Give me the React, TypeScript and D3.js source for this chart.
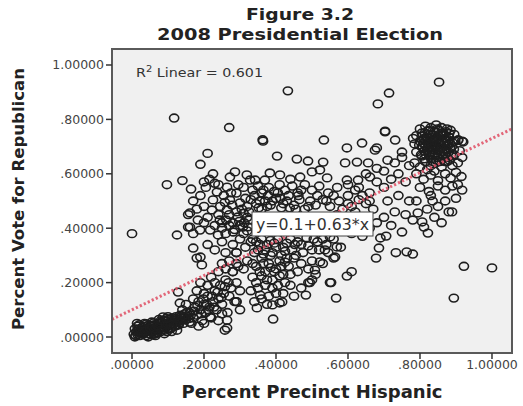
import React from 'react';
import * as d3 from 'd3';

// tick labels as shown by SPSS
const xTicks = [0, 0.2, 0.4, 0.6, 0.8, 1.0];
const yTicks = [0, 0.2, 0.4, 0.6, 0.8, 1.0];
const tickLabels = ['.00000', '.20000', '.40000', '.60000', '.80000', '1.00000'];

// linear fit shown in the chart
const fitIntercept = 0.1;
const fitSlope = 0.63;
const rSquared = '0.601';

// precincts: [share hispanic, share republican]
const lowBand: [number, number][] = [
  [0.005, 0.01], [0.01, 0.005], [0.012, 0.02], [0.015, 0.01], [0.018, 0.03], [0.02, 0.015], [0.022, 0.005],
  [0.025, 0.02], [0.028, 0.035], [0.03, 0.01], [0.032, 0.025], [0.035, 0.015], [0.038, 0.03], [0.04, 0.005],
  [0.042, 0.02], [0.045, 0.035], [0.048, 0.012], [0.05, 0.025], [0.052, 0.04], [0.055, 0.018], [0.058, 0.03],
  [0.06, 0.01], [0.062, 0.045], [0.065, 0.022], [0.068, 0.035], [0.07, 0.015], [0.072, 0.05], [0.075, 0.028],
  [0.078, 0.04], [0.08, 0.02], [0.082, 0.055], [0.085, 0.033], [0.088, 0.045], [0.09, 0.025], [0.092, 0.06],
  [0.095, 0.038], [0.098, 0.05], [0.1, 0.03], [0.102, 0.065], [0.105, 0.045], [0.108, 0.055], [0.11, 0.035],
  [0.112, 0.07], [0.115, 0.05], [0.118, 0.06], [0.12, 0.04], [0.122, 0.075], [0.125, 0.055], [0.128, 0.065],
  [0.13, 0.045], [0.133, 0.08], [0.136, 0.06], [0.14, 0.07], [0.143, 0.05], [0.146, 0.085], [0.15, 0.065],
  [0.155, 0.075], [0.16, 0.055], [0.02, 0.045], [0.008, 0.03], [0.035, 0.05], [0.055, 0.055], [0.075, 0.065],
  [0.1, 0.075], [0.015, 0.04], [0.045, 0.0], [0.065, 0.005], [0.09, 0.012], [0.11, 0.02], [0.125, 0.025],
  [0.086, 0.074], [0.078, 0.037], [0.008, 0.0], [0.014, 0.05], [0.017, 0.022], [0.027, 0.012],
  [0.033, 0.04], [0.043, 0.028], [0.047, 0.045], [0.053, 0.008], [0.057, 0.042], [0.063, 0.03],
  [0.067, 0.012], [0.073, 0.022], [0.077, 0.052], [0.083, 0.027], [0.087, 0.06], [0.093, 0.045],
  [0.097, 0.02], [0.103, 0.052], [0.107, 0.03], [0.113, 0.062], [0.117, 0.04], [0.123, 0.068],
  [0.127, 0.045], [0.132, 0.058], [0.138, 0.078], [0.142, 0.062], [0.148, 0.072], [0.152, 0.09],
  [0.158, 0.068], [0.163, 0.08], [0.04, 0.048], [0.06, 0.052], [0.08, 0.06], [0.095, 0.068],
  [0.024, 0.028], [0.037, 0.022], [0.05, 0.033], [0.07, 0.042],
];

const rising: [number, number][] = [
  [0.16, 0.09], [0.17, 0.07], [0.175, 0.11], [0.18, 0.08], [0.185, 0.13], [0.19, 0.1], [0.195, 0.06],
  [0.2, 0.12], [0.205, 0.09], [0.21, 0.15], [0.215, 0.11], [0.22, 0.07], [0.225, 0.13], [0.23, 0.17],
  [0.235, 0.1], [0.24, 0.14], [0.245, 0.19], [0.25, 0.12], [0.255, 0.16], [0.26, 0.21], [0.265, 0.09],
  [0.264, 0.033], [0.264, 0.062], [0.27, 0.15], [0.275, 0.18], [0.28, 0.24], [0.285, 0.13], [0.29, 0.2],
  [0.29, 0.13], [0.3, 0.17], [0.295, 0.26], [0.17, 0.14], [0.18, 0.17], [0.19, 0.2], [0.2, 0.16],
  [0.21, 0.19], [0.22, 0.22], [0.23, 0.2], [0.24, 0.24], [0.25, 0.27], [0.26, 0.25], [0.27, 0.28],
  [0.128, 0.165], [0.133, 0.125], [0.15, 0.12], [0.14, 0.1], [0.165, 0.05], [0.185, 0.04], [0.2, 0.05],
  [0.217, 0.074], [0.24, 0.06], [0.25, 0.085], [0.18, 0.29], [0.194, 0.265], [0.17, 0.327], [0.19, 0.294],
  [0.172, 0.095], [0.182, 0.115], [0.192, 0.085], [0.198, 0.14], [0.208, 0.12], [0.212, 0.1],
  [0.222, 0.15], [0.228, 0.11], [0.238, 0.165], [0.248, 0.145], [0.258, 0.185], [0.268, 0.2],
];

const midCloud: [number, number][] = [
  [0.2, 0.57], [0.225, 0.6], [0.23, 0.565], [0.272, 0.588], [0.286, 0.607], [0.319, 0.596], [0.328, 0.577],
  [0.342, 0.577], [0.369, 0.577], [0.383, 0.603], [0.411, 0.596], [0.44, 0.58], [0.467, 0.588], [0.5, 0.607],
  [0.522, 0.614], [0.542, 0.585], [0.164, 0.544], [0.236, 0.533], [0.264, 0.551], [0.29, 0.529], [0.31, 0.55],
  [0.335, 0.54], [0.35, 0.555], [0.36, 0.53], [0.38, 0.55], [0.395, 0.535], [0.41, 0.56], [0.425, 0.54],
  [0.445, 0.555], [0.46, 0.53], [0.48, 0.56], [0.5, 0.54], [0.52, 0.555], [0.545, 0.53], [0.57, 0.55],
  [0.6, 0.56], [0.62, 0.54], [0.225, 0.504], [0.222, 0.467], [0.264, 0.467], [0.272, 0.504], [0.3, 0.493],
  [0.32, 0.48], [0.33, 0.505], [0.345, 0.49], [0.36, 0.47], [0.37, 0.5], [0.385, 0.485], [0.4, 0.51],
  [0.415, 0.475], [0.43, 0.5], [0.45, 0.485], [0.465, 0.505], [0.48, 0.47], [0.495, 0.5], [0.51, 0.485],
  [0.53, 0.505], [0.55, 0.48], [0.575, 0.5], [0.6, 0.49], [0.63, 0.505], [0.65, 0.49], [0.161, 0.456],
  [0.156, 0.45], [0.183, 0.43], [0.244, 0.43], [0.294, 0.441], [0.31, 0.455], [0.325, 0.43], [0.161, 0.404],
  [0.189, 0.393], [0.217, 0.393], [0.239, 0.375], [0.281, 0.386], [0.308, 0.404], [0.27, 0.41], [0.25, 0.42],
  [0.2, 0.42], [0.32, 0.39], [0.21, 0.34], [0.23, 0.32], [0.25, 0.35], [0.26, 0.31], [0.28, 0.34],
  [0.29, 0.31], [0.3, 0.36], [0.315, 0.33], [0.33, 0.35], [0.34, 0.31], [0.355, 0.34], [0.37, 0.32],
  [0.385, 0.355], [0.4, 0.33], [0.415, 0.3], [0.43, 0.345], [0.445, 0.32], [0.46, 0.35], [0.475, 0.31],
  [0.49, 0.335], [0.505, 0.36], [0.52, 0.32], [0.54, 0.34], [0.56, 0.36], [0.58, 0.33], [0.28, 0.24],
  [0.29, 0.27], [0.31, 0.25], [0.32, 0.28], [0.335, 0.22], [0.345, 0.26], [0.36, 0.29], [0.37, 0.24],
  [0.38, 0.27], [0.39, 0.21], [0.4, 0.25], [0.41, 0.28], [0.42, 0.23], [0.435, 0.26], [0.45, 0.29],
  [0.46, 0.24], [0.47, 0.27], [0.49, 0.25], [0.5, 0.28], [0.51, 0.23], [0.53, 0.27], [0.55, 0.2],
  [0.56, 0.29], [0.33, 0.17], [0.34, 0.13], [0.356, 0.154], [0.37, 0.19], [0.38, 0.15], [0.39, 0.18],
  [0.41, 0.125], [0.42, 0.16], [0.44, 0.19], [0.45, 0.15], [0.47, 0.18], [0.483, 0.154], [0.49, 0.2],
  [0.5, 0.21], [0.29, 0.13], [0.3, 0.1], [0.392, 0.066], [0.25, 0.4], [0.26, 0.38], [0.27, 0.45],
  [0.28, 0.42], [0.29, 0.46], [0.3, 0.41], [0.31, 0.38], [0.32, 0.44], [0.255, 0.52], [0.275, 0.53],
  [0.295, 0.56], [0.315, 0.51], [0.34, 0.52], [0.355, 0.5], [0.365, 0.54], [0.375, 0.48], [0.39, 0.5],
  [0.405, 0.53], [0.42, 0.49], [0.435, 0.52], [0.455, 0.47], [0.47, 0.54], [0.49, 0.48], [0.515, 0.52],
  [0.54, 0.5], [0.56, 0.52], [0.585, 0.47], [0.61, 0.48], [0.64, 0.52], [0.66, 0.5], [0.335, 0.36],
  [0.35, 0.32], [0.36, 0.36], [0.375, 0.34], [0.39, 0.31], [0.405, 0.36], [0.42, 0.33], [0.44, 0.36],
  [0.455, 0.3], [0.47, 0.34], [0.485, 0.365], [0.5, 0.32], [0.515, 0.35], [0.53, 0.36], [0.545, 0.31],
  [0.335, 0.27], [0.345, 0.2], [0.355, 0.24], [0.365, 0.27], [0.375, 0.21], [0.385, 0.3], [0.395, 0.24],
  [0.405, 0.19], [0.415, 0.26], [0.425, 0.2], [0.43, 0.29], [0.44, 0.23], [0.35, 0.18], [0.36, 0.14],
  [0.375, 0.12], [0.4, 0.16], [0.347, 0.107], [0.39, 0.118], [0.417, 0.129], [0.17, 0.5], [0.18, 0.47],
  [0.19, 0.52], [0.2, 0.48], [0.205, 0.55], [0.21, 0.44], [0.215, 0.58], [0.24, 0.56], [0.245, 0.48],
  [0.17, 0.38], [0.23, 0.41], [0.24, 0.45], [0.494, 0.2], [0.508, 0.246], [0.522, 0.276], [0.536, 0.32],
  [0.564, 0.294], [0.569, 0.331], [0.55, 0.368], [0.262, 0.43], [0.285, 0.395], [0.298, 0.425],
  [0.312, 0.42], [0.322, 0.405], [0.258, 0.495], [0.278, 0.485], [0.305, 0.47], [0.325, 0.46],
  [0.352, 0.475], [0.378, 0.52], [0.412, 0.51], [0.438, 0.475], [0.462, 0.52], [0.345, 0.35],
  [0.365, 0.305], [0.395, 0.345], [0.425, 0.315], [0.452, 0.34], [0.36, 0.225], [0.385, 0.255],
  [0.41, 0.225], [0.425, 0.275],
];

const midRight: [number, number][] = [
  [0.55, 0.42], [0.57, 0.45], [0.58, 0.39], [0.6, 0.43], [0.61, 0.38], [0.62, 0.46], [0.63, 0.41],
  [0.64, 0.37], [0.65, 0.44], [0.66, 0.4], [0.67, 0.47], [0.68, 0.42], [0.69, 0.364], [0.706, 0.371],
  [0.686, 0.327], [0.7, 0.44], [0.71, 0.5], [0.72, 0.41], [0.73, 0.46], [0.74, 0.52], [0.75, 0.386],
  [0.76, 0.45], [0.77, 0.5], [0.78, 0.43], [0.6, 0.52], [0.63, 0.55], [0.66, 0.53], [0.68, 0.57],
  [0.7, 0.55], [0.72, 0.58], [0.74, 0.6], [0.76, 0.57], [0.77, 0.63], [0.65, 0.6], [0.68, 0.62],
  [0.7, 0.61], [0.71, 0.65], [0.73, 0.64], [0.75, 0.66], [0.68, 0.695], [0.731, 0.724], [0.781, 0.73],
  [0.75, 0.68], [0.597, 0.695], [0.639, 0.713], [0.675, 0.687], [0.592, 0.64], [0.625, 0.643],
  [0.656, 0.64], [0.597, 0.577], [0.628, 0.577], [0.661, 0.588], [0.703, 0.754], [0.533, 0.724],
  [0.531, 0.643], [0.489, 0.647], [0.458, 0.654], [0.403, 0.665], [0.364, 0.72],
];

const rightBlob: [number, number][] = [
  [0.8, 0.765], [0.815, 0.775], [0.83, 0.77], [0.845, 0.78], [0.86, 0.77], [0.875, 0.765], [0.822, 0.757],
  [0.852, 0.76], [0.79, 0.74], [0.805, 0.75], [0.82, 0.735], [0.835, 0.745], [0.85, 0.74], [0.865, 0.75],
  [0.88, 0.735], [0.895, 0.745], [0.81, 0.728], [0.842, 0.73], [0.87, 0.728], [0.785, 0.71], [0.8, 0.72],
  [0.815, 0.705], [0.83, 0.715], [0.845, 0.7], [0.86, 0.72], [0.875, 0.705], [0.89, 0.715], [0.906, 0.724],
  [0.92, 0.717], [0.808, 0.695], [0.838, 0.688], [0.868, 0.69], [0.79, 0.68], [0.805, 0.665], [0.82, 0.685],
  [0.835, 0.67], [0.85, 0.685], [0.865, 0.665], [0.88, 0.68], [0.895, 0.67], [0.91, 0.685], [0.917, 0.66],
  [0.785, 0.64], [0.8, 0.625], [0.815, 0.645], [0.83, 0.63], [0.845, 0.65], [0.86, 0.625], [0.875, 0.645],
  [0.89, 0.63], [0.905, 0.64], [0.82, 0.615], [0.79, 0.6], [0.81, 0.58], [0.83, 0.595], [0.85, 0.575],
  [0.87, 0.6], [0.885, 0.585], [0.9, 0.605], [0.915, 0.59], [0.84, 0.61], [0.8, 0.55], [0.825, 0.535],
  [0.85, 0.555], [0.87, 0.54], [0.89, 0.555], [0.917, 0.54], [0.905, 0.56], [0.805, 0.7], [0.812, 0.685],
  [0.818, 0.72], [0.825, 0.7], [0.828, 0.745], [0.832, 0.69], [0.838, 0.725], [0.843, 0.705], [0.848, 0.66],
  [0.853, 0.715], [0.857, 0.695], [0.862, 0.74], [0.866, 0.705], [0.872, 0.675], [0.878, 0.72], [0.883, 0.695],
  [0.812, 0.655], [0.826, 0.665], [0.836, 0.645], [0.842, 0.675], [0.855, 0.645], [0.864, 0.655],
  [0.876, 0.66], [0.882, 0.65], [0.807, 0.74], [0.824, 0.76], [0.84, 0.755], [0.858, 0.75], [0.872, 0.755],
  [0.885, 0.76], [0.798, 0.705], [0.803, 0.67], [0.817, 0.735], [0.833, 0.725], [0.847, 0.725], [0.861, 0.68],
  [0.869, 0.715], [0.888, 0.7], [0.894, 0.69], [0.898, 0.72], [0.79, 0.5], [0.794, 0.456], [0.806, 0.423],
  [0.811, 0.404], [0.822, 0.382], [0.82, 0.47], [0.835, 0.5], [0.84, 0.44], [0.85, 0.48], [0.86, 0.42],
  [0.87, 0.5], [0.88, 0.46], [0.889, 0.46], [0.9, 0.51], [0.83, 0.52], [0.917, 0.72], [0.906, 0.724],
  [0.81, 0.712], [0.821, 0.695], [0.827, 0.678], [0.834, 0.705], [0.84, 0.72], [0.846, 0.69],
  [0.851, 0.73], [0.856, 0.708], [0.861, 0.695], [0.867, 0.73], [0.873, 0.69], [0.879, 0.705],
  [0.816, 0.67], [0.831, 0.655], [0.844, 0.64], [0.853, 0.67], [0.869, 0.645], [0.887, 0.665],
  [0.813, 0.75], [0.829, 0.735], [0.848, 0.765], [0.866, 0.745], [0.881, 0.748],
];

const outliers: [number, number][] = [
  [0, 0.38], [0.117, 0.805], [0.27, 0.77], [0.433, 0.905], [0.363, 0.725], [0.21, 0.675], [0.19, 0.635],
  [0.097, 0.56], [0.14, 0.575], [0.853, 0.937], [0.714, 0.897], [0.683, 0.857], [0.703, 0.757],
  [0.922, 0.26], [1.0, 0.254], [0.894, 0.143], [0.567, 0.143], [0.553, 0.2], [0.597, 0.224], [0.61, 0.24],
  [0.678, 0.29], [0.733, 0.31], [0.763, 0.313], [0.78, 0.305], [0.258, 0.025], [0.125, 0.375],
  [0.156, 0.404], [0.29, 0.31],
];

const precincts = [...lowBand, ...rising, ...midCloud, ...midRight, ...rightBlob, ...outliers];

const W = 523;
const H = 406;
const frame = { left: 112, right: 512, top: 49, bottom: 353 };
const font = 'DejaVu Sans, Verdana, sans-serif';

export default function App() {
  const x = d3.scaleLinear().domain([-0.0556, 1.0556]).range([frame.left, frame.right]);
  const y = d3.scaleLinear().domain([-0.0588, 1.0588]).range([frame.bottom, frame.top]);

  const fit = d3.line<number>()
    .x(d => x(d))
    .y(d => y(fitIntercept + fitSlope * d));
  const fitPath = fit(x.domain()) || '';

  return (
    <svg width={W} height={H} style={{ position: 'absolute', left: 0, top: 0, background: '#fff' }}>
      <defs>
        <clipPath id="plot">
          <rect x={frame.left} y={frame.top} width={frame.right - frame.left} height={frame.bottom - frame.top} />
        </clipPath>
      </defs>

      <text x={300} y={20} textAnchor="middle" fontFamily={font} fontWeight="bold" fontSize={16}
        fill="#222" textLength={108} lengthAdjust="spacingAndGlyphs">Figure 3.2</text>
      <text x={300} y={40} textAnchor="middle" fontFamily={font} fontWeight="bold" fontSize={16.5}
        fill="#222" textLength={286} lengthAdjust="spacingAndGlyphs">2008 Presidential Election</text>

      <rect x={frame.left} y={frame.top} width={frame.right - frame.left} height={frame.bottom - frame.top}
        fill="#f0f0f0" />

      <g clipPath="url(#plot)">
        {precincts.map((d, i) => (
          <ellipse key={i} cx={x(d[0])} cy={y(d[1])} rx={4.6} ry={3.9}
            fill="none" stroke="#1e1e1e" strokeWidth={1.6} />
        ))}
        <path d={fitPath} fill="none" stroke="#e0566a" strokeWidth={3} strokeDasharray="2.2,2.2" strokeOpacity={0.9} />
      </g>

      <rect x={frame.left} y={frame.top} width={frame.right - frame.left} height={frame.bottom - frame.top}
        fill="none" stroke="#5a5a5a" strokeWidth={2} />

      <text x={136} y={77} fontFamily={font} fontSize={13} fill="#333" textLength={127} lengthAdjust="spacingAndGlyphs">
        R<tspan dy={-5} fontSize={9}>2</tspan><tspan dy={5}> Linear = {rSquared}</tspan>
      </text>

      <rect x={252} y={212} width={121} height={24} fill="#fff" stroke="#444" strokeWidth={1} />
      <text x={312.5} y={230} textAnchor="middle" fontFamily={font} fontSize={15} fill="#333"
        textLength={113} lengthAdjust="spacingAndGlyphs">{`y=${fitIntercept}+${fitSlope}*x`}</text>

      {xTicks.map((t, i) => (
        <g key={'x' + i}>
          <line x1={x(t)} x2={x(t)} y1={frame.bottom} y2={frame.bottom + 6} stroke="#333" strokeWidth={1.5} />
          <text x={x(t)} y={369} textAnchor="middle" fontFamily={font} fontSize={12.5} fill="#444">{tickLabels[i]}</text>
        </g>
      ))}
      {yTicks.map((t, i) => (
        <g key={'y' + i}>
          <line x1={frame.left - 6} x2={frame.left} y1={y(t)} y2={y(t)} stroke="#333" strokeWidth={1.5} />
          <text x={frame.left - 8} y={y(t) + 4.5} textAnchor="end" fontFamily={font} fontSize={12.5} fill="#444">{tickLabels[i]}</text>
        </g>
      ))}

      <text x={312} y={398} textAnchor="middle" fontFamily={font} fontWeight="bold" fontSize={17} fill="#222"
        textLength={261} lengthAdjust="spacingAndGlyphs">Percent Precinct Hispanic</text>
      <text transform="translate(24,199) rotate(-90)" textAnchor="middle" fontFamily={font} fontWeight="bold"
        fontSize={16.5} fill="#222" textLength={262} lengthAdjust="spacingAndGlyphs">Percent Vote for Republican</text>
    </svg>
  );
}
